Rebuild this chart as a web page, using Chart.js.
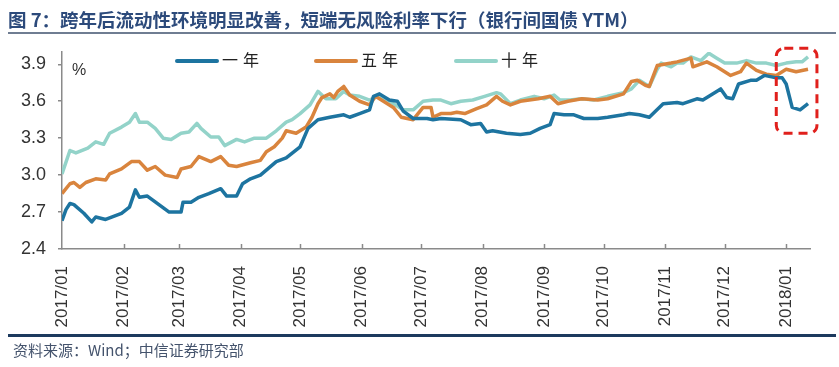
<!DOCTYPE html>
<html>
<head>
<meta charset="utf-8">
<script src="https://cdn.jsdelivr.net/npm/chart.js@4"></script>
<style>
  body { margin: 0; background: #fff; }
  #wrap { position: relative; width: 839px; height: 367px; }
  #titulo { position: absolute; left: 8px; top: 6px; font: bold 18.5px "Noto Sans CJK SC", sans-serif; color: #2c4a7b; white-space: nowrap; }
  #linhaTitulo { position: absolute; left: 8px; top: 32px; width: 828px; height: 2px; background: #6f7d92; }
  #linhaRodape { position: absolute; left: 8px; top: 334px; width: 828px; height: 3px; background: #1c3a5e; }
  #rodape { position: absolute; left: 13px; top: 339px; font: 15px "Noto Sans CJK SC", sans-serif; color: #44536c; white-space: nowrap; }
  canvas { position: absolute; left: 0; top: 0; }
</style>
</head>
<body>
<div id="wrap">
  <canvas id="graficoYtm" width="839" height="367"></canvas>
  <div id="titulo">图 7：跨年后流动性环境明显改善，短端无风险利率下行（银行间国债 YTM）</div>
  <div id="linhaTitulo"></div>
  <div id="linhaRodape"></div>
  <div id="rodape">资料来源：Wind；中信证券研究部</div>
</div>
<script>
// dias contados a partir de 2017/01/01
const meses = [0, 31, 59, 90, 120, 151, 181, 212, 243, 273, 304, 334, 365]
const rotulosMeses = ['2017/01', '2017/02', '2017/03', '2017/04', '2017/05', '2017/06', '2017/07',
    '2017/08', '2017/09', '2017/10', '2017/11', '2017/12', '2018/01']
const ticksY = [2.4, 2.7, 3.0, 3.3, 3.6, 3.9]

const dias1a = [0, 2, 4, 6, 11, 15, 17, 22, 30, 34, 37, 39, 43, 48, 54, 60, 61, 65, 69, 74, 80, 83, 88, 91,
    95, 100, 108, 113, 120, 124, 129, 135, 142, 145, 150, 155, 157, 160, 165, 169, 172, 177, 184, 187,
    191, 201, 206, 211, 214, 217, 224, 231, 236, 241, 246, 248, 253, 258, 263, 270, 275, 283, 286, 291,
    296, 303, 310, 313, 320, 323, 332, 335, 338, 341, 347, 350, 354, 360, 363, 365, 368, 372, 376]
const taxa1a = [2.63, 2.72, 2.77, 2.76, 2.69, 2.62, 2.66, 2.64, 2.69, 2.74, 2.88, 2.82, 2.83, 2.77, 2.70, 2.70, 2.78, 2.78, 2.82, 2.85, 2.89, 2.83, 2.83, 2.93,
    2.97, 3.00, 3.11, 3.14, 3.23, 3.38, 3.45, 3.47, 3.49, 3.47, 3.50, 3.53, 3.64, 3.66, 3.61, 3.60, 3.52, 3.46, 3.46, 3.45,
    3.46, 3.45, 3.41, 3.42, 3.35, 3.36, 3.34, 3.33, 3.34, 3.38, 3.41, 3.50, 3.49, 3.49, 3.46, 3.46, 3.47, 3.49, 3.50, 3.49,
    3.47, 3.58, 3.59, 3.58, 3.62, 3.61, 3.70, 3.63, 3.62, 3.74, 3.77, 3.77, 3.81, 3.79, 3.79, 3.74, 3.55, 3.53, 3.58]

const dias5a = [0, 4, 6, 9, 12, 17, 22, 24, 30, 35, 39, 43, 47, 52, 58, 60, 65, 69, 75, 80, 84, 88, 95, 100,
    103, 107, 111, 113, 118, 123, 126, 129, 131, 135, 137, 139, 142, 145, 150, 155, 158, 162, 167, 171, 177,
    182, 186, 187, 191, 196, 199, 203, 209, 214, 219, 222, 226, 231, 240, 246, 250, 255, 262, 270, 275, 283,
    287, 290, 294, 296, 300, 307, 310, 317, 318, 325, 330, 337, 342, 345, 350, 355, 360, 365, 370, 376]
const taxa5a = [2.85, 2.93, 2.94, 2.90, 2.94, 2.97, 2.96, 3.01, 3.05, 3.11, 3.11, 3.04, 3.07, 3.00, 2.98, 3.05, 3.07, 3.15, 3.11, 3.15, 3.08, 3.07, 3.10, 3.12,
    3.19, 3.23, 3.30, 3.36, 3.34, 3.39, 3.47, 3.58, 3.63, 3.66, 3.63, 3.68, 3.72, 3.65, 3.60, 3.57, 3.64, 3.60, 3.55, 3.47, 3.45,
    3.55, 3.55, 3.47, 3.50, 3.50, 3.51, 3.50, 3.54, 3.57, 3.64, 3.60, 3.57, 3.60, 3.62, 3.64, 3.58, 3.60, 3.62, 3.61, 3.62, 3.66,
    3.76, 3.77, 3.73, 3.72, 3.89, 3.91, 3.92, 3.95, 3.88, 3.92, 3.88, 3.81, 3.84, 3.91, 3.85, 3.82, 3.81, 3.86, 3.84, 3.86]

const dias10a = [0, 4, 7, 13, 17, 21, 24, 30, 34, 37, 39, 43, 47, 51, 55, 60, 64, 68, 70, 75, 79, 82, 88, 92, 97,
    103, 108, 113, 116, 120, 125, 129, 133, 138, 142, 145, 150, 155, 159, 165, 172, 177, 182, 187, 191, 196,
    201, 207, 213, 219, 221, 226, 231, 238, 243, 248, 251, 256, 262, 268, 275, 283, 287, 291, 296, 300, 302,
    307, 310, 313, 317, 322, 326, 330, 334, 340, 345, 350, 355, 360, 365, 370, 373, 376]
const taxa10a = [3.01, 3.20, 3.18, 3.22, 3.27, 3.25, 3.34, 3.39, 3.43, 3.50, 3.43, 3.43, 3.38, 3.30, 3.29, 3.34, 3.35, 3.42, 3.38, 3.31, 3.31, 3.24, 3.29, 3.27, 3.30,
    3.30, 3.36, 3.43, 3.45, 3.50, 3.57, 3.68, 3.62, 3.62, 3.68, 3.65, 3.64, 3.61, 3.64, 3.60, 3.53, 3.53, 3.60, 3.61, 3.61, 3.58,
    3.60, 3.61, 3.64, 3.67, 3.66, 3.58, 3.61, 3.64, 3.62, 3.65, 3.61, 3.61, 3.62, 3.61, 3.64, 3.67, 3.70, 3.77, 3.72, 3.86, 3.91,
    3.88, 3.91, 3.91, 3.96, 3.93, 3.99, 3.95, 3.91, 3.91, 3.93, 3.91, 3.91, 3.89, 3.91, 3.92, 3.92, 3.96]

function montaPontos(dias, taxas) {
    return dias.map((d, i) => ({ x: d, y: taxas[i] }))
}

const corUm = '#1d74a0'
const corCinco = '#d9843d'
const corDez = '#93d3c9'

// legenda, "%" e caixa tracejada
const extras = {
    id: 'extras',
    afterDraw(chart) {
        const ctx = chart.ctx
        const escX = chart.scales.x
        const escY = chart.scales.y
        const area = chart.chartArea
        ctx.save()

        // ticks do eixo x para dentro
        ctx.strokeStyle = '#8a8a8a'
        ctx.lineWidth = 1.5
        meses.slice(1).forEach(m => {
            const px = Math.round(escX.getPixelForValue(m)) + 0.5
            ctx.beginPath()
            ctx.moveTo(px, area.bottom)
            ctx.lineTo(px, area.bottom - 5)
            ctx.stroke()
        })

        ctx.fillStyle = '#333'
        ctx.font = '16px "Liberation Sans", sans-serif'
        ctx.textBaseline = 'middle'
        ctx.fillText('%', 72, 71)

        const itens = [['一年', corUm, 177], ['五年', corCinco, 316], ['十年', corDez, 456]]
        ctx.font = '16px "Noto Sans CJK SC", sans-serif'
        itens.forEach(([nome, cor, x0]) => {
            ctx.strokeStyle = cor
            ctx.lineWidth = 4
            ctx.lineCap = 'round'
            ctx.beginPath()
            ctx.moveTo(x0, 61)
            ctx.lineTo(x0 + 40, 61)
            ctx.stroke()
            ctx.fillStyle = '#222'
            ctx.fillText(nome[0], x0 + 45, 60)
            ctx.fillText(nome[1], x0 + 66, 60)
        })

        const x1 = escX.getPixelForValue(360)
        const x2 = escX.getPixelForValue(380.5)
        const y1 = escY.getPixelForValue(4.03)
        const y2 = escY.getPixelForValue(3.34)
        ctx.strokeStyle = '#e0201c'
        ctx.lineWidth = 3
        ctx.lineCap = 'butt'
        ctx.setLineDash([9, 6])
        ctx.beginPath()
        ctx.roundRect(x1, y1, x2 - x1, y2 - y1, 8)
        ctx.stroke()
        ctx.restore()
    }
}

const graficoYtm = new Chart(document.getElementById('graficoYtm'), {
    type: 'line',
    data: {
        datasets: [{
            label: '一年',
            data: montaPontos(dias1a, taxa1a),
            borderColor: corUm,
            borderWidth: 3.5
        }, {
            label: '五年',
            data: montaPontos(dias5a, taxa5a),
            borderColor: corCinco,
            borderWidth: 3.5
        }, {
            label: '十年',
            data: montaPontos(dias10a, taxa10a),
            borderColor: corDez,
            borderWidth: 3.5
        }]
    },
    options: {
        responsive: false,
        animation: false,
        layout: { padding: { top: 52, right: 29, left: 0, bottom: 0 } },
        elements: { point: { radius: 0 }, line: { tension: 0, borderJoinStyle: 'round' } },
        plugins: { legend: { display: false }, tooltip: { enabled: false } },
        scales: {
            x: {
                type: 'linear',
                min: 0,
                max: 377,
                afterFit: (escala) => { escala.height = 118 },
                afterBuildTicks: (escala) => { escala.ticks = meses.map(v => ({ value: v })) },
                grid: { display: false },
                border: { display: true, color: '#8a8a8a', width: 1.5 },
                ticks: {
                    autoSkip: false,
                    maxRotation: 90,
                    minRotation: 90,
                    padding: 9,
                    color: '#333',
                    font: { size: 17, family: '"Liberation Sans", sans-serif' },
                    callback: (v) => rotulosMeses[meses.indexOf(v)]
                }
            },
            y: {
                min: 2.4,
                max: 4.0,
                afterFit: (escala) => { escala.width = 62 },
                afterBuildTicks: (escala) => { escala.ticks = ticksY.map(v => ({ value: v })) },
                grid: { drawOnChartArea: false, drawTicks: true, tickLength: 4, color: '#8a8a8a', lineWidth: 1.5 },
                border: { display: true, color: '#8a8a8a', width: 1.5 },
                ticks: {
                    padding: 12,
                    color: '#333',
                    font: { size: 18, family: '"Liberation Sans", sans-serif' },
                    callback: (v) => v.toFixed(1)
                }
            }
        }
    },
    plugins: [extras]
})
</script>
</body>
</html>
